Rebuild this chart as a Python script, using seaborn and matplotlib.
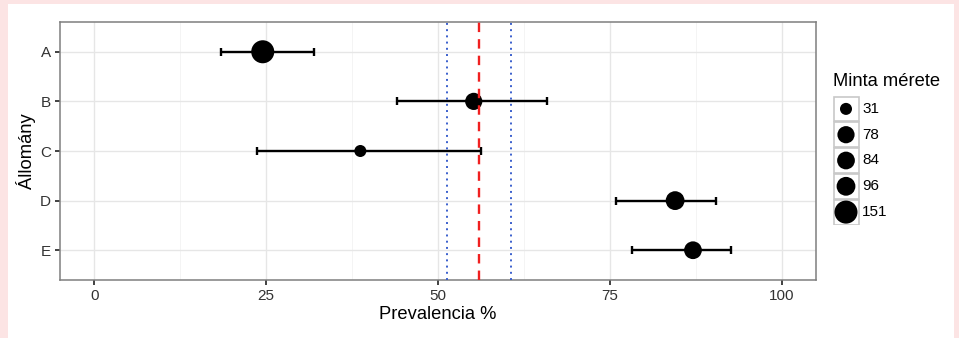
import matplotlib
matplotlib.use("Agg")
import matplotlib.pyplot as plt
from matplotlib.patches import Rectangle
import seaborn as sns
import pandas as pd

# data
allomany = ["A", "B", "C", "D", "E"]
prevalencia = [24.5, 55.2, 38.7, 84.5, 87.1]
ci_also = [18.4, 44.1, 23.7, 75.9, 78.2]
ci_felso = [32.0, 65.8, 56.2, 90.5, 92.7]
minta_merete = [151, 78, 31, 96, 84]
atlag = 56.0
atlag_ci = [51.3, 60.6]

df = pd.DataFrame({
    "Allomany": allomany,
    "Prevalencia": prevalencia,
    "also": ci_also,
    "felso": ci_felso,
    "n": minta_merete,
})

sns.set_theme(style="white")
plt.rcParams["font.family"] = ["Liberation Sans", "DejaVu Sans"]

PINK = "#fce4e4"
SIZES = (75, 275)

fig = plt.figure(figsize=(9.59, 3.38), dpi=100)
fig.patch.set_facecolor(PINK)
# white card behind the chart
fig.patches.append(Rectangle((8 / 959, 0), 946 / 959, 334 / 338,
                             transform=fig.transFigure, facecolor="white",
                             edgecolor="none", zorder=-10))

ax = fig.add_axes([60 / 959, 1 - 280 / 338, 756 / 959, 258 / 338])

# grid like theme_bw
for v in [12.5, 37.5, 62.5, 87.5]:
    ax.axvline(v, color="#f2f2f2", lw=0.6, zorder=0)
for v in [0, 25, 50, 75, 100]:
    ax.axvline(v, color="#e6e6e6", lw=1.0, zorder=0)
for i in range(len(allomany)):
    ax.axhline(i, color="#e6e6e6", lw=1.0, zorder=0)

# confidence intervals
ax.errorbar(df["Prevalencia"], range(len(df)),
            xerr=[df["Prevalencia"] - df["also"], df["felso"] - df["Prevalencia"]],
            fmt="none", ecolor="black", elinewidth=1.7, capsize=3.0,
            capthick=1.7, zorder=2)

sns.scatterplot(data=df, x="Prevalencia", y="Allomany", size="n",
                sizes=SIZES, color="black", edgecolor="none",
                legend=False, ax=ax, zorder=3)

# overall prevalence and its CI
ax.axvline(atlag, color="#f02020", lw=1.7, ls=(0, (4, 3)), zorder=4)
for v in atlag_ci:
    ax.axvline(v, color="#3a5fcd", lw=1.4, ls=(0, (1, 2.2)), zorder=4)

ax.set_xlim(-5, 105)
ax.set_ylim(len(allomany) - 0.4, -0.6)
ax.set_xticks([0, 25, 50, 75, 100])
ax.set_xlabel("Prevalencia %", fontsize=13.2, color="black", labelpad=2)
ax.set_ylabel("Állomány", fontsize=13.2, color="black", labelpad=3)
ax.tick_params(axis="both", length=3.5, width=1.3, color="#333333",
               labelsize=11, labelcolor="#333333", pad=3, direction="out")
ax.tick_params(bottom=True, left=True)
for sp in ax.spines.values():
    sp.set_color("#7f7f7f")
    sp.set_linewidth(1.1)

# legend drawn as its own little panel, ggplot style keys
lax = fig.add_axes([833 / 959, 1 - 225 / 338, 70 / 959, 129 / 338])
lax.set_xlim(0, 70)
lax.set_ylim(129, 0)
lax.axis("off")
srt = sorted(minta_merete)
nmin, nmax = min(srt), max(srt)
key_h = 129 / len(srt)
for i, n in enumerate(srt):
    lax.add_patch(Rectangle((0.5, i * key_h + 0.5), 25.5, key_h - 1,
                            facecolor="white", edgecolor="#c8c8c8", lw=1.2))
    s = SIZES[0] + (n - nmin) / (nmax - nmin) * (SIZES[1] - SIZES[0])
    lax.scatter([13], [(i + 0.5) * key_h], s=s, color="black", edgecolor="none",
                clip_on=False)
    lax.text(29, (i + 0.5) * key_h, str(n), fontsize=11, va="center",
             ha="left", color="black")
fig.text(833 / 959, 1 - 86 / 338, "Minta mérete", fontsize=13.2,
         ha="left", va="baseline", color="black")

fig.savefig("out.png", dpi=100, facecolor=PINK)
